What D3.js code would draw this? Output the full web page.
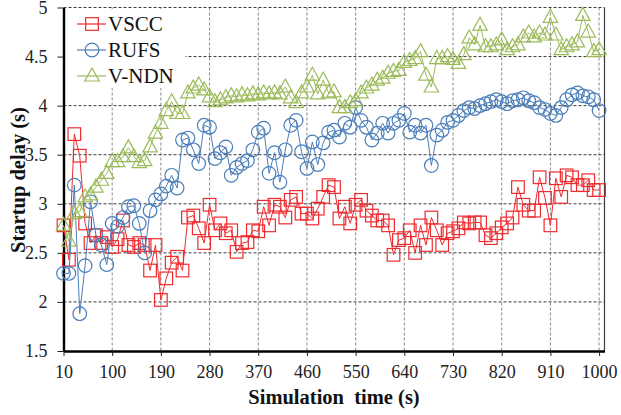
<!DOCTYPE html>
<html>
<head>
<meta charset="utf-8">
<script src="https://cdn.jsdelivr.net/npm/d3@7"></script>
<style>
  html, body { margin: 0; padding: 0; background: #fff; }
  svg text { font-family: "Liberation Serif", "Times New Roman", serif; }
</style>
</head>
<body>
<div id="chart"></div>
<script>
// startup delay over simulation time

const times = [
  10, 20, 30, 40, 50, 60, 70, 80, 90, 100,
  110, 120, 130, 140, 150, 160, 170, 180, 190, 200,
  210, 220, 230, 240, 250, 260, 270, 280, 290, 300,
  310, 320, 330, 340, 350, 360, 370, 380, 390, 400,
  410, 420, 430, 440, 450, 460, 470, 480, 490, 500,
  510, 520, 530, 540, 550, 560, 570, 580, 590, 600,
  610, 620, 630, 640, 650, 660, 670, 680, 690, 700,
  710, 720, 730, 740, 750, 760, 770, 780, 790, 800,
  810, 820, 830, 840, 850, 860, 870, 880, 890, 900,
  910, 920, 930, 940, 950, 960, 970, 980, 990, 1000
];

const vscc = [
  2.78, 2.43, 3.71, 3.49, 2.80, 2.60, 2.68, 2.60, 2.66, 2.56,
  2.64, 2.83, 2.58, 2.56, 2.60, 2.58, 2.32, 2.58, 2.02, 2.24,
  2.40, 2.46, 2.32, 2.86, 2.88, 2.75, 2.60, 2.99, 2.73, 2.80,
  2.70, 2.73, 2.51, 2.60, 2.61, 2.73, 2.72, 2.97, 2.78, 2.99,
  2.97, 2.86, 3.04, 3.07, 2.90, 2.90, 2.85, 2.95, 3.07, 3.19,
  3.17, 2.85, 2.97, 2.80, 2.99, 3.04, 2.93, 2.88, 2.83, 2.83,
  2.78, 2.48, 2.63, 2.65, 2.73, 2.50, 2.78, 2.58, 2.86, 2.73,
  2.58, 2.70, 2.72, 2.75, 2.81, 2.80, 2.81, 2.81, 2.68, 2.65,
  2.70, 2.76, 2.80, 2.86, 3.17, 2.99, 2.93, 2.93, 3.27, 3.06,
  2.78, 3.26, 3.07, 3.29, 3.27, 3.19, 3.19, 3.24, 3.14, 3.14
];

const rufs = [
  2.29, 2.29, 3.19, 1.88, 2.37, 3.02, 2.68, 2.58, 2.38, 2.80,
  2.77, 2.86, 2.97, 2.98, 2.80, 2.50, 2.93, 3.04, 3.10, 3.18,
  3.29, 3.16, 3.65, 3.67, 3.55, 3.41, 3.80, 3.78, 3.46, 3.52,
  3.58, 3.29, 3.37, 3.41, 3.44, 3.55, 3.73, 3.77, 3.31, 3.52,
  3.22, 3.55, 3.80, 3.85, 3.53, 3.36, 3.63, 3.40, 3.62, 3.73,
  3.75, 3.68, 3.82, 3.78, 3.98, 3.85, 3.78, 3.65, 3.72, 3.82,
  3.72, 3.82, 3.85, 3.92, 3.73, 3.80, 3.72, 3.80, 3.39, 3.70,
  3.75, 3.83, 3.85, 3.90, 3.95, 3.98, 3.97, 4.00, 4.02, 4.04,
  4.06, 4.04, 4.02, 4.05, 4.06, 4.08, 4.05, 4.03, 3.98, 3.96,
  3.92, 3.90, 3.98, 4.06, 4.11, 4.13, 4.10, 4.09, 4.06, 3.95
];

const vndn = [
  2.78, 2.62, 2.90, 2.92, 3.07, 3.09, 3.17, 3.24, 3.31, 3.43,
  3.43, 3.48, 3.57, 3.48, 3.42, 3.44, 3.58, 3.72, 3.82, 3.95,
  4.04, 3.92, 3.92, 4.13, 4.18, 4.21, 4.16, 4.09, 4.04, 4.06,
  4.08, 4.10, 4.09, 4.11, 4.10, 4.12, 4.11, 4.13, 4.12, 4.13,
  4.12, 4.19, 4.08, 4.03, 4.13, 4.19, 4.31, 4.12, 4.26, 4.13,
  4.14, 3.98, 3.98, 4.03, 4.05, 4.13, 4.18, 4.21, 4.26, 4.28,
  4.33, 4.35, 4.36, 4.44, 4.46, 4.48, 4.55, 4.31, 4.19, 4.48,
  4.48, 4.50, 4.47, 4.43, 4.52, 4.69, 4.62, 4.82, 4.60, 4.60,
  4.62, 4.67, 4.57, 4.60, 4.62, 4.70, 4.74, 4.70, 4.74, 4.72,
  4.90, 4.72, 4.57, 4.60, 4.62, 4.65, 4.92, 4.75, 4.55, 4.57
];

const seriesNames = ["VSCC", "RUFS", "V-NDN"];
const xTicks = [10, 100, 190, 280, 370, 460, 550, 640, 730, 820, 910, 1000];
const yTicks = [1.5, 2, 2.5, 3, 3.5, 4, 4.5, 5];

const width = 621;
const height = 415;

const colors = { "VSCC": "#ee2b2f", "RUFS": "#4a7ebb", "V-NDN": "#9bbb59" };
const markers = { "VSCC": "square", "RUFS": "circle", "V-NDN": "triangle" };
const seriesData = { "VSCC": vscc, "RUFS": rufs, "V-NDN": vndn };

const x = d3.scaleLinear().domain([10, 1010]).range([63.5, 604.5]);
const y = d3.scaleLinear().domain([1.5, 5]).range([351, 7.5]);

const svg = d3.select("#chart")
  .append("svg")
  .attr("width", width)
  .attr("height", height);

svg.append("rect")
  .attr("width", width)
  .attr("height", height)
  .attr("fill", "#fff");

// grid
const grid = svg.append("g");

grid.selectAll(".vgrid")
  .data(xTicks.filter(d => d !== 10))
  .enter()
  .append("line")
  .attr("x1", d => x(d))
  .attr("x2", d => x(d))
  .attr("y1", y(5))
  .attr("y2", y(1.5))
  .attr("stroke", "#8a8a8a")
  .attr("stroke-width", 1)
  .attr("stroke-dasharray", "3,2");

grid.selectAll(".hgrid")
  .data(yTicks.filter(d => d !== 1.5))
  .enter()
  .append("line")
  .attr("x1", x(10))
  .attr("x2", x(1010))
  .attr("y1", d => y(d))
  .attr("y2", d => y(d))
  .attr("stroke", "#3c3c3c")
  .attr("stroke-width", 1)
  .attr("stroke-dasharray", "3,2");

// right border
svg.append("line")
  .attr("x1", x(1010))
  .attr("x2", x(1010))
  .attr("y1", y(5))
  .attr("y2", y(1.5))
  .attr("stroke", "#3c3c3c")
  .attr("stroke-width", 1.2);

// legend background hides the grid behind it
svg.append("rect")
  .attr("x", x(10) + 1)
  .attr("y", y(5) + 1.5)
  .attr("width", 121)
  .attr("height", 79)
  .attr("fill", "#fff");

// axes
const xAxis = d3.axisBottom(x)
  .tickValues(xTicks)
  .tickSize(5)
  .tickSizeOuter(0)
  .tickPadding(9)
  .tickFormat(d => d);

const yAxis = d3.axisLeft(y)
  .tickValues(yTicks)
  .tickSize(6)
  .tickSizeOuter(0)
  .tickPadding(10)
  .tickFormat(d => d);

const gx = svg.append("g")
  .attr("transform", `translate(0, ${y(1.5)})`)
  .call(xAxis);

const gy = svg.append("g")
  .attr("transform", `translate(${x(10)}, 0)`)
  .call(yAxis);

[gx, gy].forEach(g => {
  g.select(".domain").attr("stroke", "#000").attr("stroke-width", 2.4);
  g.selectAll(".tick line").attr("stroke", "#222").attr("stroke-width", 1);
  g.selectAll(".tick text")
    .attr("fill", "#222")
    .style("font-family", "'Liberation Serif', 'Times New Roman', serif")
    .style("font-size", "18px");
});

// axis titles
svg.append("text")
  .attr("x", 334)
  .attr("y", 404)
  .attr("text-anchor", "middle")
  .style("font-size", "20.5px")
  .style("font-weight", "bold")
  .style("white-space", "pre")
  .attr("fill", "#111")
  .attr("xml:space", "preserve")
  .text("Simulation  time (s)");

svg.append("text")
  .attr("transform", "translate(25, 180) rotate(-90)")
  .attr("text-anchor", "middle")
  .style("font-size", "20.5px")
  .style("font-weight", "bold")
  .attr("fill", "#111")
  .text("Startup delay (s)");

function drawMarker(sel, type, color) {
  if (type === "square") {
    sel.append("rect")
      .attr("x", -6.3).attr("y", -6.3)
      .attr("width", 12.6).attr("height", 12.6)
      .attr("fill", "none")
      .attr("stroke", color)
      .attr("stroke-width", 1.2);
  } else if (type === "circle") {
    sel.append("circle")
      .attr("r", 6.8)
      .attr("fill", "none")
      .attr("stroke", color)
      .attr("stroke-width", 1.2);
  } else {
    sel.append("path")
      .attr("d", "M0,-8 L7.2,5 L-7.2,5 Z")
      .attr("fill", "none")
      .attr("stroke", color)
      .attr("stroke-width", 1.2);
  }
}

const line = d3.line()
  .x((d, i) => x(times[i]))
  .y(d => y(d));

// draw each series
seriesNames.forEach(name => {
  const values = seriesData[name];
  const g = svg.append("g");

  g.append("path")
    .datum(values)
    .attr("d", line)
    .attr("fill", "none")
    .attr("stroke", colors[name])
    .attr("stroke-width", 1);

  g.selectAll(".pt")
    .data(values)
    .enter()
    .append("g")
    .attr("transform", (d, i) => `translate(${x(times[i])}, ${y(d)})`)
    .each(function() {
      drawMarker(d3.select(this), markers[name], colors[name]);
    });
});

// legend
seriesNames.forEach((name, i) => {
  const row = svg.append("g")
    .attr("transform", `translate(77, ${24 + i * 26})`);

  row.append("line")
    .attr("x1", 0).attr("x2", 29)
    .attr("y1", 0).attr("y2", 0)
    .attr("stroke", colors[name])
    .attr("stroke-width", 1.2);

  drawMarker(row.append("g").attr("transform", "translate(15, 0)"), markers[name], colors[name]);

  row.append("text")
    .attr("x", 31)
    .attr("y", 7)
    .style("font-size", "21px")
    .attr("fill", "#111")
    .text(name);
});
</script>
</body>
</html>
